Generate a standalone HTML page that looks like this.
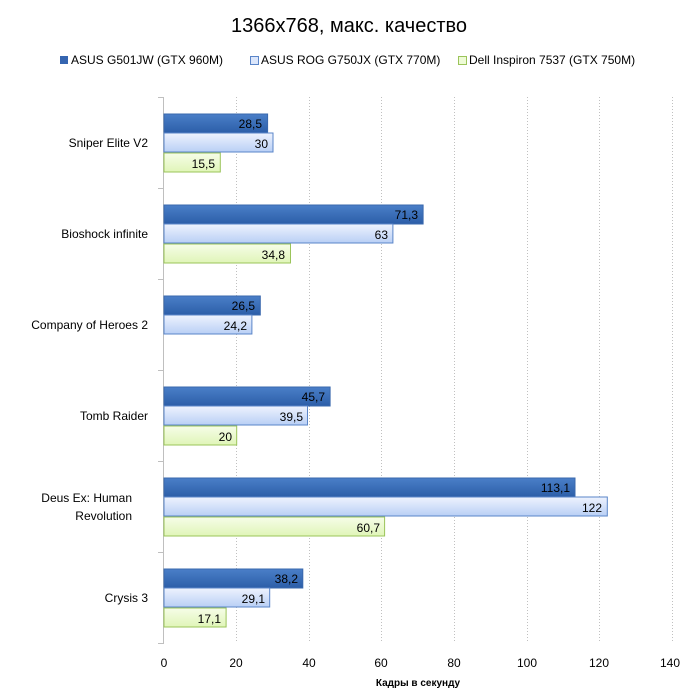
<!DOCTYPE html>
<html><head><meta charset="utf-8"><style>body{margin:0;background:#fff}svg{display:block}text{font-family:"Liberation Sans",sans-serif}</style></head><body>
<svg width="699" height="699" xmlns="http://www.w3.org/2000/svg">
<defs>
<linearGradient id="gb" x1="0" y1="0" x2="0" y2="1"><stop offset="0" stop-color="#4a7fc8"/><stop offset="1" stop-color="#2c5ea8"/></linearGradient>
<linearGradient id="gl" x1="0" y1="0" x2="0" y2="1"><stop offset="0" stop-color="#eef3fe"/><stop offset="1" stop-color="#b9cff5"/></linearGradient>
<linearGradient id="gg" x1="0" y1="0" x2="0" y2="1"><stop offset="0" stop-color="#f6fde8"/><stop offset="1" stop-color="#e0f5b8"/></linearGradient>
</defs>
<text x="349" y="32" font-size="20" text-anchor="middle" fill="#000">1366x768, макс. качество</text>
<rect x="60" y="56" width="8" height="8" fill="#3565b0"/>
<text x="71" y="64" font-size="12">ASUS G501JW (GTX 960M)</text>
<rect x="250.5" y="56.5" width="8" height="8" fill="#dbe6fb" stroke="#5a85c8"/>
<text x="261" y="64" font-size="12">ASUS ROG G750JX (GTX 770M)</text>
<rect x="458.5" y="56.5" width="8" height="8" fill="#eefbd6" stroke="#9bc45a"/>
<text x="469" y="64" font-size="12">Dell Inspiron 7537 (GTX 750M)</text>
<g stroke="#c0c0c0" stroke-dasharray="1,2">
<line x1="236.5" y1="97" x2="236.5" y2="643"/><line x1="309.5" y1="97" x2="309.5" y2="643"/><line x1="381.5" y1="97" x2="381.5" y2="643"/><line x1="454.5" y1="97" x2="454.5" y2="643"/><line x1="527.5" y1="97" x2="527.5" y2="643"/><line x1="599.5" y1="97" x2="599.5" y2="643"/><line x1="672.5" y1="97" x2="672.5" y2="643"/>
</g>
<g stroke="#bfbfbf"><line x1="163.5" y1="97" x2="163.5" y2="643"/>
<line x1="158" y1="97.5" x2="164" y2="97.5"/><line x1="158" y1="188.5" x2="164" y2="188.5"/><line x1="158" y1="279.5" x2="164" y2="279.5"/><line x1="158" y1="370.5" x2="164" y2="370.5"/><line x1="158" y1="461.5" x2="164" y2="461.5"/><line x1="158" y1="552.5" x2="164" y2="552.5"/><line x1="158" y1="643.5" x2="164" y2="643.5"/></g>
<g font-size="12" text-anchor="end" fill="#000">
<text x="148" y="147">Sniper Elite V2</text>
<text x="148" y="238">Bioshock infinite</text>
<text x="148" y="329">Company of Heroes 2</text>
<text x="148" y="420">Tomb Raider</text>
<text x="132" y="502">Deus Ex: Human</text><text x="132" y="520">Revolution</text>
<text x="148" y="602">Crysis 3</text>
</g>
<g font-size="12" text-anchor="middle">
<text x="164" y="667">0</text><text x="236" y="667">20</text><text x="309" y="667">40</text><text x="381" y="667">60</text><text x="454" y="667">80</text><text x="527" y="667">100</text><text x="599" y="667">120</text><text x="670" y="667">140</text>
<text x="418" y="686" font-size="10" font-weight="bold">Кадры  в секунду</text>
</g>
<g id="bars" font-size="12" text-anchor="end">
<!-- scale 3.634 px/unit -->
<rect x="164" y="114" width="103.6" height="19" fill="url(#gb)" stroke="#3a68ad"/><text x="262" y="128">28,5</text>
<rect x="164" y="133" width="109" height="19" fill="url(#gl)" stroke="#5a85c8"/><text x="268" y="148">30</text>
<rect x="164" y="153" width="56.3" height="19" fill="url(#gg)" stroke="#9bc45a"/><text x="215" y="168">15,5</text>

<rect x="164" y="205" width="259.1" height="19" fill="url(#gb)" stroke="#3a68ad"/><text x="418" y="219">71,3</text>
<rect x="164" y="224" width="228.9" height="19" fill="url(#gl)" stroke="#5a85c8"/><text x="388" y="239">63</text>
<rect x="164" y="244" width="126.5" height="19" fill="url(#gg)" stroke="#9bc45a"/><text x="285" y="259">34,8</text>

<rect x="164" y="296" width="96.3" height="19" fill="url(#gb)" stroke="#3a68ad"/><text x="255" y="310">26,5</text>
<rect x="164" y="315" width="87.9" height="19" fill="url(#gl)" stroke="#5a85c8"/><text x="247" y="330">24,2</text>

<rect x="164" y="387" width="166.1" height="19" fill="url(#gb)" stroke="#3a68ad"/><text x="325" y="401">45,7</text>
<rect x="164" y="406" width="143.5" height="19" fill="url(#gl)" stroke="#5a85c8"/><text x="303" y="421">39,5</text>
<rect x="164" y="426" width="72.7" height="19" fill="url(#gg)" stroke="#9bc45a"/><text x="232" y="441">20</text>

<rect x="164" y="478" width="411" height="19" fill="url(#gb)" stroke="#3a68ad"/><text x="570" y="492">113,1</text>
<rect x="164" y="497" width="443.3" height="19" fill="url(#gl)" stroke="#5a85c8"/><text x="602" y="512">122</text>
<rect x="164" y="517" width="220.6" height="19" fill="url(#gg)" stroke="#9bc45a"/><text x="380" y="532">60,7</text>

<rect x="164" y="569" width="138.8" height="19" fill="url(#gb)" stroke="#3a68ad"/><text x="298" y="583">38,2</text>
<rect x="164" y="588" width="105.7" height="19" fill="url(#gl)" stroke="#5a85c8"/><text x="265" y="603">29,1</text>
<rect x="164" y="608" width="62.1" height="19" fill="url(#gg)" stroke="#9bc45a"/><text x="221" y="623">17,1</text>
</g>
</svg>
</body></html>
